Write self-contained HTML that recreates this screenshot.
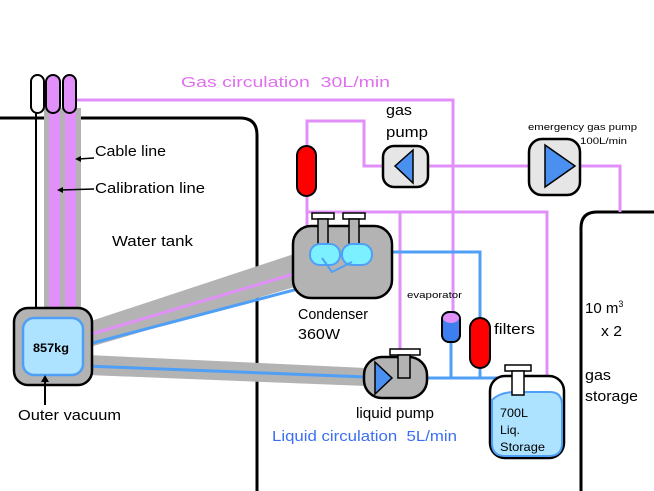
<!DOCTYPE html>
<html><head><style>
html,body{margin:0;padding:0;background:#fff;}
svg{display:block;font-family:"Liberation Sans",sans-serif;}
</style></head><body>
<svg width="654" height="491" viewBox="0 0 654 491" xmlns="http://www.w3.org/2000/svg">
<path d="M0,118 H240 Q257,118 257,135 V491" fill="none" stroke="#000" stroke-width="3"/>
<path d="M654,212 H597 Q581,212 581,228 V491" fill="none" stroke="#000" stroke-width="3"/>
<line x1="36" y1="110" x2="36" y2="312" stroke="#000" stroke-width="2"/>
<rect x="44" y="108" width="37" height="205" fill="#b3b3b3"/>
<polygon points="88,322 300,252 305,284 90,347" fill="#b3b3b3"/>
<polygon points="88,355 366,368 366,386 88,375" fill="#b3b3b3"/>
<rect x="49" y="110" width="11" height="205" fill="#e090f8"/>
<rect x="65" y="110" width="11" height="205" fill="#e090f8"/>
<rect x="31" y="75" width="13" height="38" rx="6.5" fill="#fff" stroke="#000" stroke-width="2"/>
<rect x="46" y="75" width="14" height="38" rx="7" fill="#e090f8" stroke="#000" stroke-width="2"/>
<rect x="63" y="75" width="13" height="38" rx="6.5" fill="#e090f8" stroke="#000" stroke-width="2"/>
<g fill="none" stroke="#e090f8" stroke-width="3">
<polyline points="77,100 453,100 453,313"/>
<polyline points="307,146 307,121 364,121 364,166 383,166"/>
<line x1="428" y1="166" x2="529" y2="166"/>
<polyline points="580,166 620,166 620,212"/>
<polyline points="307,197 307,270"/>
<polyline points="307,212 547,212 547,390"/>
<polyline points="400,212 400,350"/>
<polyline points="85,336 307,270"/>
</g>
<g fill="none" stroke="#4f9ff6" stroke-width="3">
<polyline points="85,345 332,280 352,265"/>
<line x1="322" y1="262" x2="332" y2="280"/>
<polyline points="372,252 480,252 480,320"/>
<polyline points="85,366 366,377"/>
<line x1="427" y1="378" x2="500" y2="378"/>
<line x1="451" y1="342" x2="451" y2="378"/>
<line x1="480" y1="366" x2="480" y2="378"/>
</g>
<rect x="14" y="308" width="78" height="77" rx="14" fill="#b3b3b3" stroke="#000" stroke-width="2.5"/>
<rect x="23" y="318" width="60" height="57" rx="11" fill="#aee3ff" stroke="#4f9ff6" stroke-width="2.5"/>
<text x="33" y="352" font-size="12" font-weight="bold" textLength="36" lengthAdjust="spacingAndGlyphs">857kg</text>
<line x1="45" y1="405" x2="45" y2="378" stroke="#000" stroke-width="2"/>
<polygon points="45,375 41,382 49,382" fill="#000"/>
<g font-size="15" lengthAdjust="spacingAndGlyphs">
<text x="18" y="420" textLength="103" lengthAdjust="spacingAndGlyphs">Outer vacuum</text>
<text x="95" y="156" textLength="71" lengthAdjust="spacingAndGlyphs">Cable line</text>
<text x="95" y="193" textLength="110" lengthAdjust="spacingAndGlyphs">Calibration line</text>
<text x="112" y="246" textLength="81" lengthAdjust="spacingAndGlyphs">Water tank</text>
<text x="181" y="87" fill="#e070f0" textLength="209" lengthAdjust="spacingAndGlyphs">Gas circulation&#160;&#160;30L/min</text>
<text x="386" y="115" textLength="26" lengthAdjust="spacingAndGlyphs">gas</text>
<text x="386" y="137" textLength="42" lengthAdjust="spacingAndGlyphs">pump</text>
<text x="298" y="319" textLength="70" lengthAdjust="spacingAndGlyphs">Condenser</text>
<text x="298" y="339" textLength="42" lengthAdjust="spacingAndGlyphs">360W</text>
<text x="494" y="334" textLength="41" lengthAdjust="spacingAndGlyphs">filters</text>
<text x="356" y="418" textLength="78" lengthAdjust="spacingAndGlyphs">liquid pump</text>
<text x="272" y="441" fill="#3a6ff5" textLength="185" lengthAdjust="spacingAndGlyphs">Liquid circulation&#160;&#160;5L/min</text>
<text x="601" y="336" textLength="21" lengthAdjust="spacingAndGlyphs">x 2</text>
<text x="585" y="380" textLength="26" lengthAdjust="spacingAndGlyphs">gas</text>
<text x="585" y="401" textLength="53" lengthAdjust="spacingAndGlyphs">storage</text>
</g>
<line x1="94" y1="158" x2="78" y2="159" stroke="#000" stroke-width="1.5"/>
<polygon points="75,159 81,156 81,162" fill="#000"/>
<line x1="94" y1="189" x2="60" y2="190" stroke="#000" stroke-width="1.5"/>
<polygon points="57,190 63,187 63,193" fill="#000"/>
<rect x="297" y="146" width="19" height="50" rx="9.5" fill="#f00" stroke="#000" stroke-width="2"/>
<rect x="383" y="146" width="45" height="41" rx="11" fill="#e6e6e6" stroke="#000" stroke-width="2.5"/>
<polygon points="395,166 413,150 413,183" fill="#4a90f0" stroke="#000" stroke-width="1.5"/>
<rect x="529" y="139" width="51" height="56" rx="13" fill="#e6e6e6" stroke="#000" stroke-width="2.5"/>
<polygon points="545,145 575,166 545,187" fill="#4a90f0" stroke="#000" stroke-width="1.5"/>
<text x="528" y="130" font-size="9.5" textLength="109" lengthAdjust="spacingAndGlyphs">emergency gas pump</text>
<text x="580" y="144" font-size="9.5" textLength="47" lengthAdjust="spacingAndGlyphs">100L/min</text>
<rect x="293" y="226" width="99" height="72" rx="18" fill="#b3b3b3" stroke="#000" stroke-width="2.5"/>
<rect x="312" y="213" width="22" height="6" fill="#fff" stroke="#000" stroke-width="1.5"/>
<rect x="318" y="219" width="10" height="28" fill="#b3b3b3" stroke="#000" stroke-width="1.5"/>
<rect x="343" y="213" width="22" height="6" fill="#fff" stroke="#000" stroke-width="1.5"/>
<rect x="349" y="219" width="10" height="28" fill="#b3b3b3" stroke="#000" stroke-width="1.5"/>
<rect x="310" y="244" width="30" height="21" rx="10" fill="#7df0ff" stroke="#4f9ff6" stroke-width="2"/>
<rect x="342" y="244" width="30" height="21" rx="10" fill="#7df0ff" stroke="#4f9ff6" stroke-width="2"/>
<polyline points="322,258 332,272 352,262" fill="none" stroke="#4f9ff6" stroke-width="2"/>
<rect x="442" y="312" width="18" height="30" rx="7" fill="#3d7ff0" stroke="#000" stroke-width="2"/>
<ellipse cx="451" cy="318" rx="8" ry="5" fill="#e090f8"/>
<text x="407" y="298" font-size="9.5" textLength="55" lengthAdjust="spacingAndGlyphs">evaporator</text>
<rect x="470" y="318" width="20" height="50" rx="10" fill="#f00" stroke="#000" stroke-width="2"/>
<rect x="364" y="357" width="63" height="41" rx="18" fill="#b3b3b3" stroke="#000" stroke-width="2.5"/>
<rect x="390" y="349" width="30" height="6" fill="#fff" stroke="#000" stroke-width="1.5"/>
<rect x="398" y="355" width="12" height="23" fill="#b3b3b3" stroke="#000" stroke-width="1.5"/>
<polygon points="375,362 392,378 375,394" fill="#4a90f0" stroke="#000" stroke-width="1.5"/>
<rect x="490" y="376" width="74" height="82" rx="15" fill="#fff" stroke="#000" stroke-width="2.5"/>
<path d="M492,400 Q500,392 515,392 H550 Q562,392 562,405 V443 Q562,456 549,456 H505 Q492,456 492,443 Z" fill="#aee3ff" stroke="#4f9ff6" stroke-width="2"/>
<rect x="505" y="365" width="26" height="6" fill="#fff" stroke="#000" stroke-width="1.5"/>
<rect x="512" y="371" width="12" height="24" fill="#fff" stroke="#000" stroke-width="1.5"/>
<text x="500" y="417" font-size="12" textLength="28" lengthAdjust="spacingAndGlyphs">700L</text>
<text x="500" y="434" font-size="12" textLength="20" lengthAdjust="spacingAndGlyphs">Liq.</text>
<text x="500" y="451" font-size="12" textLength="45" lengthAdjust="spacingAndGlyphs">Storage</text>
<text x="585" y="313" font-size="15">10 m<tspan font-size="9" dy="-6">3</tspan></text>
</svg>
</body></html>
